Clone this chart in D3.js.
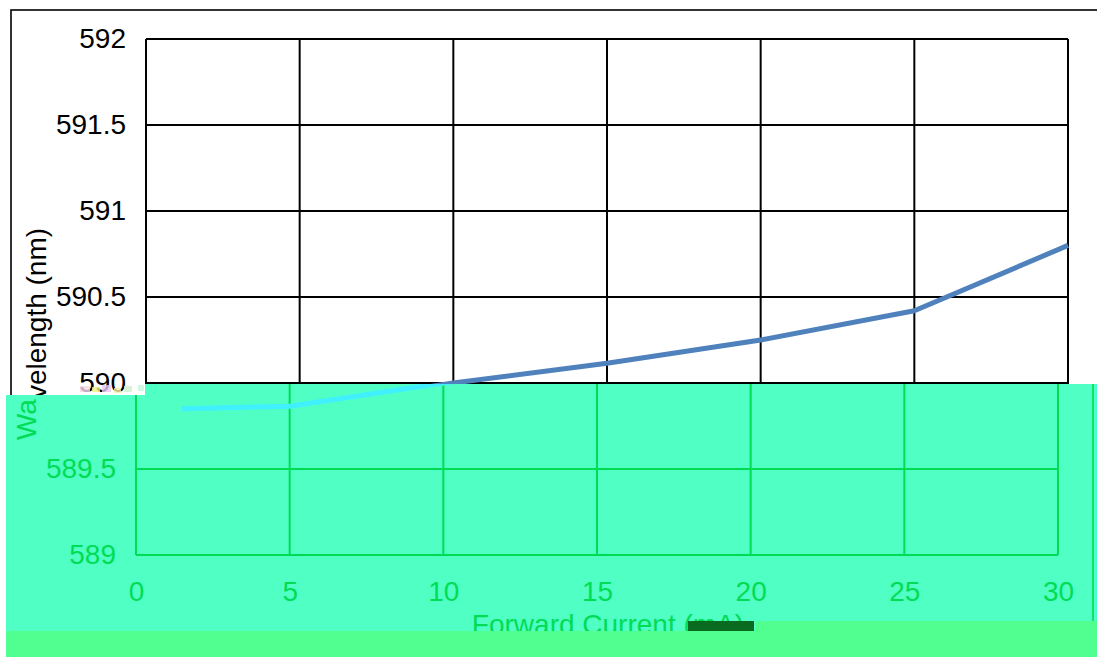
<!DOCTYPE html>
<html><head><meta charset="utf-8">
<script src="https://cdn.jsdelivr.net/npm/d3@7"></script>
<style>html,body{margin:0;padding:0;background:#fff;overflow:hidden}</style>
</head><body>
<svg id="c" width="1097" height="657"></svg>
<script>
const currentMA = [1.5, 5, 10, 15, 20, 25, 30];
const wavelengthNm = [589.85, 589.865, 590.0, 590.115, 590.25, 590.42, 590.8];
const xTicks = [0, 5, 10, 15, 20, 25, 30];
const yTicks = [589, 589.5, 590, 590.5, 591, 591.5, 592];
const xTitle = "Forward Current (mA)";
const yTitleLow = "Wa";
const yTitleHigh = "velength (nm)";

const svg = d3.select("#c");
const W = 1097, H = 657;
const x = d3.scaleLinear().domain([0, 30]).range([146, 1068]);
const y = d3.scaleLinear().domain([589, 592]).range([555, 39]);
const font = "'Liberation Sans', Arial, sans-serif";
const FS = 28;

const defs = svg.append("defs");
defs.append("clipPath").attr("id", "clipTop").append("path")
  .attr("d", `M0,0 H${W} V384 H145 V395 H6 V${H} H0 Z`);
defs.append("clipPath").attr("id", "clipBot").append("path")
  .attr("d", `M6,395 H145 V384 H${W} V${H} H6 Z`);

const meas = svg.append("text").style("font-family", font).style("font-size", FS + "px");
const lenLow = meas.text(yTitleLow).node().getComputedTextLength();
const lenHigh = meas.text(yTitleHigh).node().getComputedTextLength();
meas.remove();
const titleStartY = 334 + (lenLow + lenHigh) / 2;

function drawChart(g, th, part) {
  g.append("rect").attr("x", -20).attr("y", -20).attr("width", W + 60).attr("height", H + 60)
    .attr("fill", th.bg);
  g.append("rect").attr("x", 11).attr("y", 10).attr("width", 1092).attr("height", 700)
    .attr("fill", "none").attr("stroke", th.ink).attr("stroke-width", 1.6);
  g.append("g").selectAll("line").data(yTicks).join("line")
    .attr("x1", x(0)).attr("x2", x(30)).attr("y1", d => y(d)).attr("y2", d => y(d))
    .attr("stroke", th.ink).attr("stroke-width", 2);
  g.append("g").selectAll("line").data(xTicks).join("line")
    .attr("y1", y(589)).attr("y2", y(592)).attr("x1", d => x(d)).attr("x2", d => x(d))
    .attr("stroke", th.ink).attr("stroke-width", 2);
  const yVals = yTicks.filter(v => part === "top" ? v >= 590 : v < 590);
  const ya = g.append("g").attr("transform", `translate(${x(0)},0)`)
    .call(d3.axisLeft(y).tickValues(yVals).tickSize(0).tickPadding(20).tickFormat(d3.format("")));
  ya.select(".domain").remove();
  ya.selectAll("text").attr("fill", th.ink).style("font-family", font).style("font-size", FS + "px");
  if (part === "bottom") {
    const xa = g.append("g").attr("transform", `translate(0,${y(589)})`)
      .call(d3.axisBottom(x).tickValues(xTicks).tickSize(0).tickPadding(26).tickFormat(d3.format("")));
    xa.select(".domain").remove();
    xa.selectAll("text").attr("fill", th.ink).style("font-family", font).style("font-size", FS + "px");
    g.append("text").attr("x", 618).attr("y", 634).attr("text-anchor", "middle")
      .attr("fill", th.ink).style("font-family", font).style("font-size", FS + "px").text(xTitle);
    g.append("text").attr("transform", `translate(46,${titleStartY}) rotate(-90)`).attr("text-anchor", "start")
      .attr("fill", th.ink).style("font-family", font).style("font-size", FS + "px").text(yTitleLow);
  } else {
    g.append("text").attr("transform", `translate(46,${titleStartY - lenLow}) rotate(-90)`).attr("text-anchor", "start")
      .attr("fill", th.ink).style("font-family", font).style("font-size", FS + "px").text(yTitleHigh);
  }
  g.append("path").datum(currentMA.map((c, i) => [c, wavelengthNm[i]]))
    .attr("d", d3.line().x(d => x(d[0])).y(d => y(d[1])))
    .attr("fill", "none").attr("stroke", th.line).attr("stroke-width", 5).attr("stroke-linejoin", "round");
}

const upperPart = svg.append("g").attr("clip-path", "url(#clipTop)");
drawChart(upperPart, { bg: "#ffffff", ink: "#000000", line: "#4f81bd" }, "top");

const lowerPart = svg.append("g").attr("clip-path", "url(#clipBot)");
const lowerInner = lowerPart.append("g").attr("transform", "translate(-10,0)");
drawChart(lowerInner, { bg: "#50ffc4", ink: "#00dd55", line: "#40f0ff" }, "bottom");
lowerPart.append("rect").attr("x", 0).attr("y", 631).attr("width", 755).attr("height", 40).attr("fill", "#50ff90");
lowerPart.append("rect").attr("x", 755).attr("y", 621).attr("width", W).attr("height", 50).attr("fill", "#50ff90");
lowerPart.append("rect").attr("x", 688).attr("y", 621).attr("width", 66).attr("height", 10).attr("fill", "#0a6a20");

// small glitch noise beside the "590" label
const noise = svg.append("g");
[[80, 386, 10, 6, "#f4d8e8"], [92, 387, 8, 5, "#f0f080"], [102, 385, 9, 7, "#e8c8f0"],
 [114, 388, 7, 5, "#f8f0a0"], [124, 386, 8, 6, "#d0f0d0"], [138, 385, 6, 6, "#c8f8e0"]]
  .forEach(([nx, ny, nw, nh, c]) => noise.append("rect").attr("x", nx).attr("y", ny)
    .attr("width", nw).attr("height", nh).attr("fill", c).attr("opacity", 0.8));
</script>
</body></html>
